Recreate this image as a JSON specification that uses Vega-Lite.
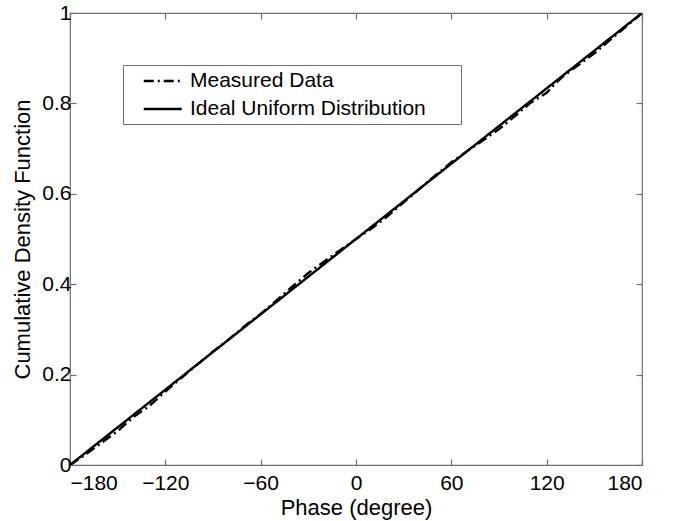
{
  "$schema": "https://vega.github.io/schema/vega-lite/v6.json",
  "width": 572,
  "height": 452,
  "padding": {"left": 11, "top": 2, "right": 5, "bottom": 5},
  "background": "white",
  "config": {
    "font": "Liberation Sans",
    "view": {"stroke": "#707070", "strokeWidth": 1.2},
    "axis": {"grid": false, "domain": false, "tickColor": "#707070", "tickSize": -6, "tickWidth": 1.2, "labelColor": "black", "titleColor": "black", "labelFont": "Liberation Sans", "titleFont": "Liberation Sans", "labelFontSize": 21, "titleFontSize": 22, "titleFontWeight": "normal"}
  },
  "data": {
    "values": [
      {"phase": -180, "cdf": 0, "series": "Ideal Uniform Distribution"},
      {"phase": 180, "cdf": 1, "series": "Ideal Uniform Distribution"},
      {"phase": -180, "cdf": 0, "series": "Measured Data"},
      {"phase": -170, "cdf": 0.0238, "series": "Measured Data"},
      {"phase": -160, "cdf": 0.0496, "series": "Measured Data"},
      {"phase": -150, "cdf": 0.0753, "series": "Measured Data"},
      {"phase": -140, "cdf": 0.1061, "series": "Measured Data"},
      {"phase": -130, "cdf": 0.1309, "series": "Measured Data"},
      {"phase": -120, "cdf": 0.1627, "series": "Measured Data"},
      {"phase": -110, "cdf": 0.1924, "series": "Measured Data"},
      {"phase": -100, "cdf": 0.2222, "series": "Measured Data"},
      {"phase": -90, "cdf": 0.251, "series": "Measured Data"},
      {"phase": -80, "cdf": 0.2778, "series": "Measured Data"},
      {"phase": -70, "cdf": 0.3076, "series": "Measured Data"},
      {"phase": -60, "cdf": 0.3343, "series": "Measured Data"},
      {"phase": -50, "cdf": 0.3641, "series": "Measured Data"},
      {"phase": -40, "cdf": 0.3949, "series": "Measured Data"},
      {"phase": -30, "cdf": 0.4247, "series": "Measured Data"},
      {"phase": -20, "cdf": 0.4504, "series": "Measured Data"},
      {"phase": -10, "cdf": 0.4752, "series": "Measured Data"},
      {"phase": 0, "cdf": 0.5, "series": "Measured Data"},
      {"phase": 10, "cdf": 0.5238, "series": "Measured Data"},
      {"phase": 20, "cdf": 0.5506, "series": "Measured Data"},
      {"phase": 30, "cdf": 0.5813, "series": "Measured Data"},
      {"phase": 40, "cdf": 0.6111, "series": "Measured Data"},
      {"phase": 50, "cdf": 0.6409, "series": "Measured Data"},
      {"phase": 60, "cdf": 0.6697, "series": "Measured Data"},
      {"phase": 70, "cdf": 0.6944, "series": "Measured Data"},
      {"phase": 80, "cdf": 0.7182, "series": "Measured Data"},
      {"phase": 90, "cdf": 0.743, "series": "Measured Data"},
      {"phase": 100, "cdf": 0.7718, "series": "Measured Data"},
      {"phase": 110, "cdf": 0.8016, "series": "Measured Data"},
      {"phase": 120, "cdf": 0.8233, "series": "Measured Data"},
      {"phase": 125, "cdf": 0.8422, "series": "Measured Data"},
      {"phase": 130, "cdf": 0.8591, "series": "Measured Data"},
      {"phase": 140, "cdf": 0.8849, "series": "Measured Data"},
      {"phase": 150, "cdf": 0.9107, "series": "Measured Data"},
      {"phase": 160, "cdf": 0.9404, "series": "Measured Data"},
      {"phase": 170, "cdf": 0.9702, "series": "Measured Data"},
      {"phase": 180, "cdf": 1, "series": "Measured Data"}
    ]
  },
  "layer": [
    {
      "mark": {"type": "line", "color": "black", "strokeWidth": 2.4, "clip": true},
      "encoding": {
        "x": {"field": "phase", "type": "quantitative", "scale": {"domain": [-180, 180], "nice": false},
              "axis": {"orient": "bottom", "values": [-180, -120, -60, 0, 60, 120, 180], "title": "Phase (degree)", "labelPadding": 13, "titlePadding": 4}},
        "y": {"field": "cdf", "type": "quantitative", "scale": {"domain": [0, 1], "nice": false},
              "axis": {"orient": "left", "values": [0, 0.2, 0.4, 0.6, 0.8, 1], "format": "~g", "title": "Cumulative Density Function", "labelPadding": 5, "titleBaseline": "alphabetic", "titleX": -41}},
        "strokeDash": {"field": "series", "type": "nominal",
              "scale": {"domain": ["Measured Data", "Ideal Uniform Distribution"], "range": [[10, 4, 2, 4], [1, 0]]},
              "legend": {"title": null, "orient": "none", "legendX": 53, "legendY": 52, "strokeColor": "#707070", "fillColor": "white", "padding": 5, "symbolType": "M0.5,0H4.5", "symbolSize": 361, "symbolStrokeWidth": 2.4, "symbolStrokeColor": "black", "labelFontSize": 21, "labelFont": "Liberation Sans", "labelOffset": 40, "rowPadding": 7, "labelLimit": 600, "labelExpr": "datum.label + '\u2800\u2800'"}},
        "detail": {"field": "series", "type": "nominal"}
      }
    },
    {
      "mark": {"type": "line", "opacity": 0},
      "encoding": {
        "x": {"field": "phase", "type": "quantitative", "axis": {"orient": "top", "values": [-180, -120, -60, 0, 60, 120, 180], "labels": false, "title": null}},
        "y": {"field": "cdf", "type": "quantitative", "axis": {"orient": "right", "values": [0, 0.2, 0.4, 0.6, 0.8, 1], "labels": false, "title": null}},
        "detail": {"field": "series", "type": "nominal"}
      }
    }
  ],
  "resolve": {"axis": {"x": "independent", "y": "independent"}}
}
